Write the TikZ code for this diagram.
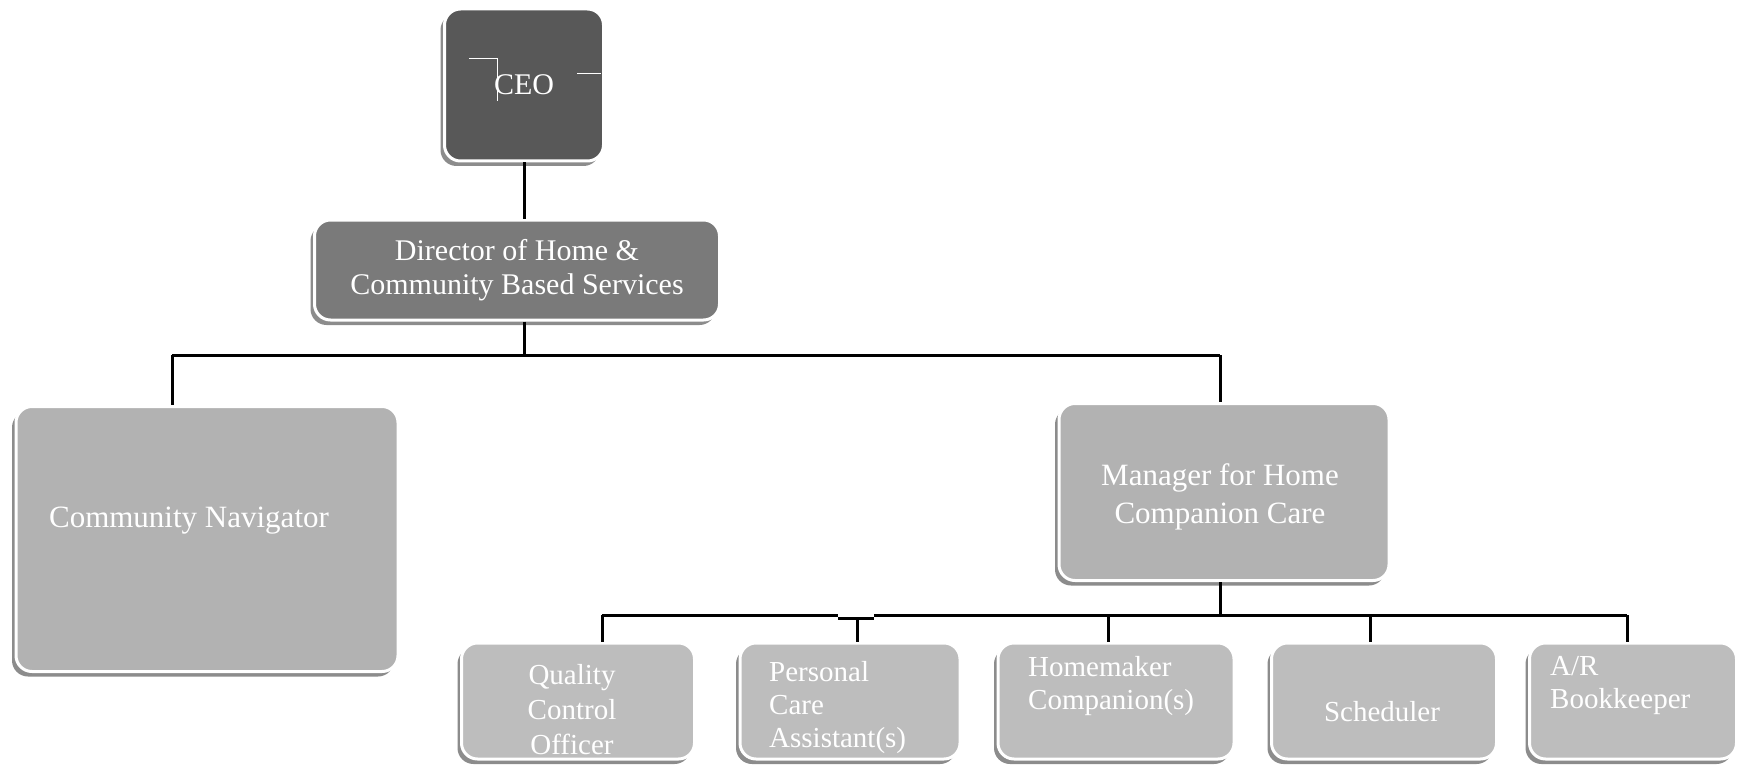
\documentclass[tikz,border=0pt]{standalone}
\usepackage{fontspec}
\setmainfont{Liberation Serif}
\usetikzlibrary{positioning,shadows}

\definecolor{ceogris}{RGB}{88,88,88}
\definecolor{dirgris}{RGB}{122,122,122}
\definecolor{mangris}{RGB}{178,178,178}
\definecolor{basgris}{RGB}{189,189,189}

\begin{document}
\begin{tikzpicture}[
      x=1pt, y=-1pt,
      boite/.style={
        draw=white,
        line width=3pt,
        rounded corners=16pt,
        inner sep=0pt,
        text=white,
        align=center,
        drop shadow={shadow xshift=-4pt, shadow yshift=-5pt, fill=black!45, opacity=1}
      },
      poste/.style={
        boite,
        fill=basgris,
        minimum width=#1,
        minimum height=116pt
      },
      texte/.style={
        text=white,
        inner sep=0pt,
        font=\fontsize{29}{33}\selectfont
      },
      lien/.style={
        line width=3pt
      }
    ]
    \useasboundingbox (0,0) rectangle (1741,773);

    \node[boite, fill=ceogris, minimum width=159pt, minimum height=152pt,
          font=\fontsize{30}{34}\selectfont] (ceo) at (524,85) {CEO} ;
    \node[boite, fill=dirgris, minimum width=405pt, minimum height=100pt,
          font=\fontsize{30}{34}\selectfont] (dir) at (517,270)
          {Director of Home \&\\Community Based Services} ;
    \node[boite, fill=mangris, minimum width=382pt, minimum height=265pt] (nav) at (207,539) {} ;
    \node[boite, fill=mangris, minimum width=330pt, minimum height=177pt] (man) at (1224,492) {} ;

    \node[poste=233pt] (1) at (578,701) {} ;
    \node[poste=220pt] (2) at (850,701) {} ;
    \node[poste=236pt] (3) at (1116,701) {} ;
    \node[poste=225pt] (4) at (1384,701) {} ;
    \node[poste=207pt] (5) at (1633,701) {} ;

    % textes
    \node[texte, font=\fontsize{31}{34}\selectfont] (navt) at (189,521) {Community Navigator} ;
    \node[texte, align=center, font=\fontsize{31}{38}\selectfont] (mant) at (1220,497)
          {Manager for Home\\Companion Care} ;
    \node[texte, align=center, font=\fontsize{29}{35}\selectfont] (1t) at (572,710) {Quality\\Control\\Officer} ;
    \node[texte, align=left, anchor=west] (2t) at (769,708) {Personal\\Care\\Assistant(s)} ;
    \node[texte, align=left, anchor=west] (3t) at (1028,686) {Homemaker\\Companion(s)} ;
    \node[texte] (4t) at (1382,712) {Scheduler} ;
    \node[texte, align=left, anchor=west] (5t) at (1550,686) {A/R\\Bookkeeper} ;

    % traits du scan
    \draw[white, line width=1pt] (469,59) -- (497,59) -- (497,101) ;
    \draw[white, line width=1pt] (577,74) -- (601,74) ;

    % liens
    \coordinate (g) at (172,355) ;
    \coordinate (m) at (524,355) ;
    \coordinate (d) at (1220,355) ;
    \coordinate (b1) at (602,615) ;
    \coordinate (b2) at (857,618) ;
    \coordinate (b3) at (1108,615) ;
    \coordinate (b4) at (1370,615) ;
    \coordinate (b5) at (1627,615) ;
    \coordinate (bm) at (1220,615) ;
    \coordinate (c1) at (838,615) ;
    \coordinate (c2) at (874,615) ;

    \draw[lien] (ceo) -- (ceo |- dir.north) ;
    \draw[lien] (m |- dir.south) -- (m) ;
    \draw[lien] (g) -- (d) ;
    \draw[lien] (g) -- (g |- nav.north) ;
    \draw[lien] (d) -- (d |- man.north) ;

    \draw[lien] (bm |- man.south) -- (bm) ;
    \draw[lien] (b1) -- (c1) ;
    \draw[lien] ([yshift=-3pt]c1) -- ([yshift=-3pt]c2) ;
    \draw[lien] (c2) -- (b5) ;
    \draw[lien] (b1) -- (b1 |- 1.north) ;
    \draw[lien] (b2) -- (b2 |- 2.north) ;
    \draw[lien] (b3) -- (b3 |- 3.north) ;
    \draw[lien] (b4) -- (b4 |- 4.north) ;
    \draw[lien] (b5) -- (b5 |- 5.north) ;
\end{tikzpicture}
\end{document}
